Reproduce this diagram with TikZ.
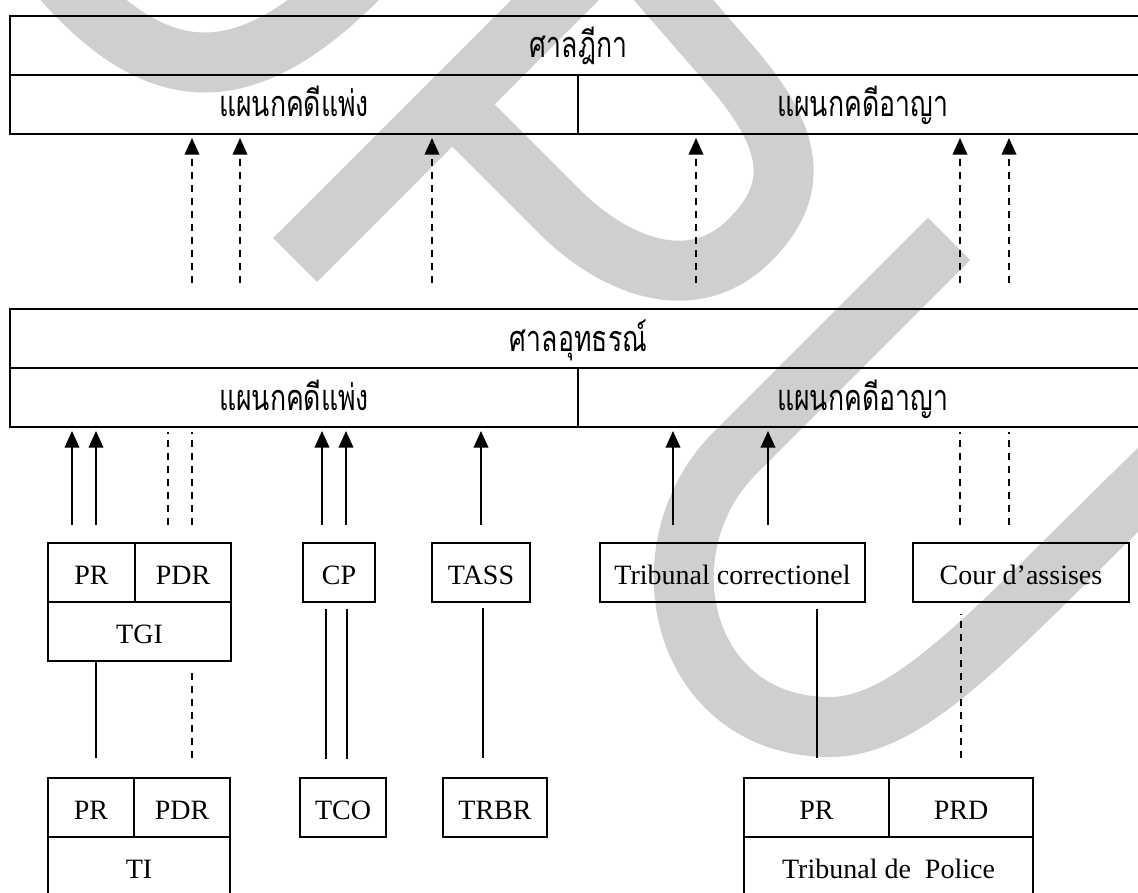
\documentclass[tikz,border=0pt]{standalone}
\usepackage{fontspec}
\setmainfont{Liberation Serif}
\newfontfamily\thaifont[Script=Thai,FakeStretch=0.74]{Loma}
\usetikzlibrary{arrows.meta}
\definecolor{wm}{RGB}{207,207,207}
\begin{document}
\begin{tikzpicture}[x=0.75pt,y=-0.75pt,
  cell/.style={draw, line width=1.6pt, inner sep=0pt, text height=17.25pt, text depth=0pt,
    font=\fontsize{21}{25}\selectfont},
  thcell/.style={cell, text height=18.75pt, font=\fontsize{27}{30}\selectfont\thaifont},
  wh/.style 2 args={minimum width=#1*0.75pt, minimum height=#2*0.75pt},
  conn/.style={line width=1.3pt},
  dconn/.style={conn, dash pattern=on 5.25pt off 4.5pt},
  arr/.style={-{Triangle[width=11pt,length=12.5pt]}, shorten >=2.2pt},
  band/.style={wm, line width=45pt}]
\useasboundingbox (0,0) rectangle (1138,892);
\clip (0,0) rectangle (1138,892);
% watermark
\draw[band] (38,-50) .. controls (155,100) and (250,100) .. (385,-50);
\draw[band, line width=46.5pt] (295,260) -- (610,-55);
\draw[band] (453,105) -- (560,212) .. controls (610,262) and (690,300) .. (750,240)
  .. controls (800,190) and (795,140) .. (730,65) -- (650,-27);
\draw[band] (949,239) -- (735,453) .. controls (640,548) and (680,727) .. (830,727)
  .. controls (920,727) and (1010,610) .. (1200,430);
% supreme court
\node[thcell, wh={1137}{59}] (sc) at (578.5,45.5) {ศาลฎีกา};
\node[thcell, wh={568}{59}] (scc) at (294,104.5) {แผนกคดีแพ่ง};
\node[thcell, wh={569}{59}] (scr) at (862.5,104.5) {แผนกคดีอาญา};
% appeal court
\node[thcell, wh={1137}{59}] (ap) at (578.5,338.5) {ศาลอุทธรณ์};
\node[thcell, wh={568}{59}] (apc) at (294,397.5) {แผนกคดีแพ่ง};
\node[thcell, wh={569}{59}] (apr) at (862.5,397.5) {แผนกคดีอาญา};
% level 3
\node[cell, wh={87}{59}] (pr3) at (91.5,572.5) {PR};
\node[cell, wh={96}{59}] (pdr3) at (183,572.5) {PDR};
\node[cell, wh={183}{59}] (tgi) at (139.5,631.5) {TGI};
\node[cell, wh={72}{59}] (cp) at (339,572.5) {CP};
\node[cell, wh={98}{59}] (tass) at (481,572.5) {TASS};
\node[cell, wh={265}{59}] (tc) at (732.5,572.5) {Tribunal correctionel};
\node[cell, wh={216}{59}] (ca) at (1021,572.5) {Cour d’assises};
% level 4
\node[cell, wh={86}{59}] (pr4) at (91,807.5) {PR};
\node[cell, wh={96}{59}] (pdr4) at (182,807.5) {PDR};
\node[cell, wh={182}{59}] (ti) at (139,866.5) {TI};
\node[cell, wh={86}{59}] (tco) at (343,807.5) {TCO};
\node[cell, wh={104}{59}] (trbr) at (495,807.5) {TRBR};
\node[cell, wh={145}{59}] (tppr) at (816.5,807.5) {PR};
\node[cell, wh={144}{59}] (tpprd) at (961,807.5) {PRD};
\node[cell, wh={289}{59}] (tp) at (888.5,866.5) {Tribunal de~~Police};
% appeal -> supreme (dashed arrows)
\foreach \x/\n in {192/u1,240/u2,432/u3}{
  \coordinate (\n) at (\x,283);
  \draw[dconn,arr] (\n) -- (\n |- scc.south);}
\foreach \x/\n in {696/u4,960/u5,1009/u6}{
  \coordinate (\n) at (\x,283);
  \draw[dconn,arr] (\n) -- (\n |- scr.south);}
% first instance -> appeal
\foreach \x/\n in {72/a1,96/a2,322/a3,346/a4,481/a5}{
  \coordinate (\n) at (\x,525);
  \draw[conn,arr] (\n) -- (\n |- apc.south);}
\foreach \x/\n in {673/a6,768/a7}{
  \coordinate (\n) at (\x,525);
  \draw[conn,arr] (\n) -- (\n |- apr.south);}
\foreach \x/\n in {168/d1,192/d2}{
  \coordinate (\n) at (\x,525);
  \draw[dconn, shorten >=3pt] (\n) -- (\n |- apc.south);}
\foreach \x/\n in {960/d3,1009/d4}{
  \coordinate (\n) at (\x,525);
  \draw[dconn, shorten >=3pt] (\n) -- (\n |- apr.south);}
% level 4 -> level 3
\coordinate (b1) at (96,758);
\draw[conn] (b1) -- (b1 |- tgi.south);
\coordinate (b2) at (192,758);
\draw[dconn, shorten >=4pt] (b2) -- (b2 |- tgi.south);
\foreach \x/\n in {326/b3,347/b4}{
  \coordinate (\n) at (\x,759);
  \draw[conn, shorten >=4.5pt] (\n) -- (\n |- cp.south);}
\coordinate (b5) at (483,758);
\draw[conn, shorten >=4pt] (b5) -- (b5 |- tass.south);
\coordinate (b6) at (817,758);
\draw[conn, shorten >=4.5pt] (b6) -- (b6 |- tc.south);
\coordinate (b7) at (961,758);
\draw[dconn, shorten >=8pt] (b7) -- (b7 |- ca.south);
\end{tikzpicture}
\end{document}
